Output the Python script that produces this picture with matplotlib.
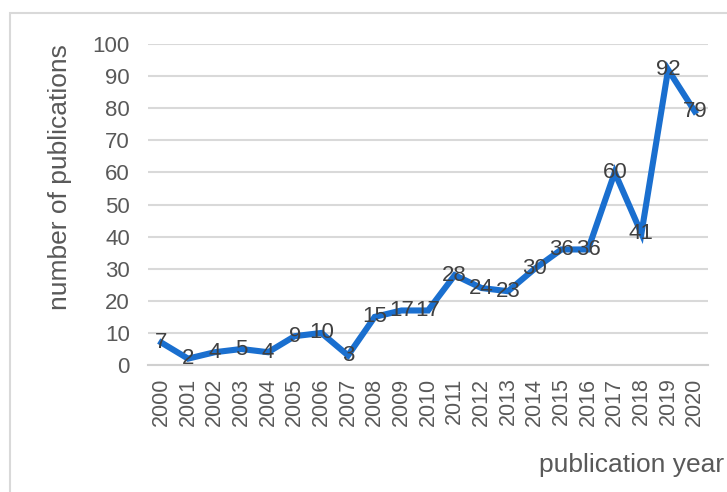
import matplotlib.pyplot as plt
from matplotlib.patches import Rectangle

# dados
anos = [str(a) for a in range(2000, 2021)]
publicacoes = [7, 2, 4, 5, 4, 9, 10, 3, 15, 17, 17, 28, 24, 23, 30, 36, 36, 60, 41, 92, 79]

plt.rcParams['font.family'] = ['Liberation Sans', 'DejaVu Sans']

fig = plt.figure(figsize=(7.27, 4.92), dpi=100)
ax = fig.add_axes([0.2036, 0.258, 0.7704, 0.6526])

# moldura cinza clara
fig.patches.append(Rectangle((10 / 727, -0.1), 1.2, 1 - 13 / 492 + 0.1, transform=fig.transFigure,
                             fill=False, edgecolor='#d9d9d9', linewidth=1.5))

x = list(range(len(anos)))
ax.plot(x, publicacoes, color='#1a6fcf', linewidth=4.4, solid_joinstyle='miter', zorder=3)

for xi, v in zip(x, publicacoes):
    ax.text(xi, v, str(v), ha='center', va='center', fontsize=16, color='#404040', zorder=4)

ax.set_xlim(-0.5, len(anos) - 0.5)
ax.set_ylim(0, 100)
ax.set_yticks(range(0, 101, 10))
ax.set_xticks(x)
ax.set_xticklabels(anos, rotation=90, fontsize=15.5, color='#595959')
ax.tick_params(axis='y', labelsize=16, colors='#595959', length=0, pad=13)
ax.tick_params(axis='x', length=0, pad=9)

ax.grid(axis='y', color='#d9d9d9', linewidth=1.5)
ax.set_axisbelow(True)
for s in ['top', 'right', 'left']:
    ax.spines[s].set_visible(False)
ax.spines['bottom'].set_color('#d0d0d0')
ax.spines['bottom'].set_linewidth(1.5)

ax.set_ylabel('number of publications', fontsize=19, color='#595959', va='center')
ax.yaxis.set_label_coords(-0.157, 0.586)
# no original o texto encosta na borda direita
fig.text(724 / 727, 1 - 465 / 492, 'publication year', fontsize=19, color='#595959',
         ha='right', va='center')

plt.savefig('out.png', dpi=100)
